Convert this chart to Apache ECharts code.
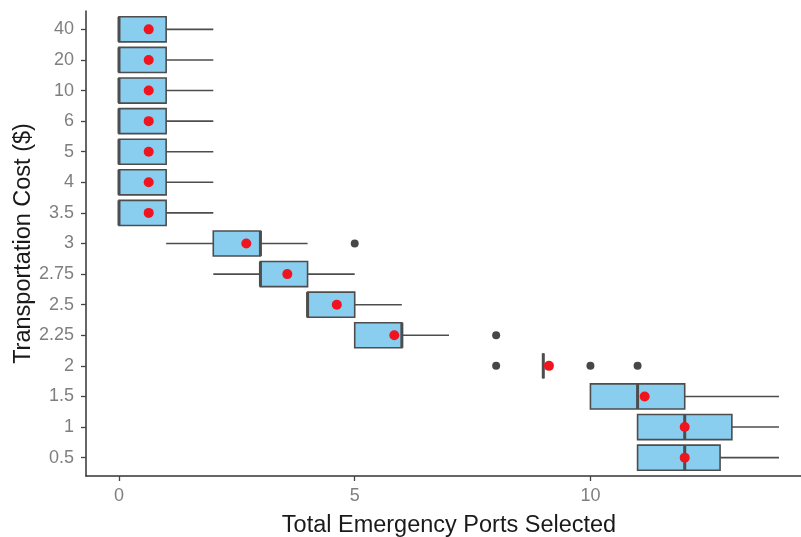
<!DOCTYPE html>
<html>
<head>
<meta charset="utf-8">
<script src="https://cdn.jsdelivr.net/npm/echarts@6/dist/echarts.min.js"></script>
<style>html,body{margin:0;padding:0;background:#fff;}#c{width:801px;height:537px;}</style>
</head>
<body>
<div id="c"></div>
<script>
// Categories (bottom to top)
const categories = ['0.5','1','1.5','2','2.25','2.5','2.75','3','3.5','4','5','6','10','20','40'];
// Box statistics per category: lower whisker, Q1, median, Q3, upper whisker
const whiskerLow = [11, 11, 10, 9, 5, 4, 2, 1, 0, 0, 0, 0, 0, 0, 0];
const q1Values   = [11, 11, 10, 9, 5, 4, 3, 2, 0, 0, 0, 0, 0, 0, 0];
const medians    = [12, 12, 11, 9, 6, 4, 3, 3, 0, 0, 0, 0, 0, 0, 0];
const q3Values   = [12.75, 13, 12, 9, 6, 5, 4, 3, 1, 1, 1, 1, 1, 1, 1];
const whiskerHigh= [14, 14, 14, 9, 7, 6, 5, 4, 2, 2, 2, 2, 2, 2, 2];
// Means (red points)
const means = [12.0, 12.0, 11.15, 9.12, 5.84, 4.62, 3.57, 2.7, 0.63, 0.63, 0.63, 0.63, 0.63, 0.63, 0.63];
// Outliers: [category label, value]
const outliers = [['2', 8], ['2', 10], ['2', 11], ['2.25', 8], ['3', 5]];
const xTicks = [0, 5, 10];

const boxData = categories.map((c, i) => [i, q1Values[i], medians[i], q3Values[i], whiskerLow[i], whiskerHigh[i]]);
const meanData = categories.map((c, i) => [means[i], i]);
const outlierData = outliers.map(o => [o[1], categories.indexOf(o[0])]);

const lineColor = '#4d4d4d';
const chart = echarts.init(document.getElementById('c'), null, {renderer: 'canvas'});
chart.setOption({
  animation: false,
  backgroundColor: '#ffffff',
  grid: {left: 86, right: -11, top: 11, bottom: 61, containLabel: false, outerBoundsMode: 'none'},
  xAxis: {
    type: 'value', min: -0.7, max: 14.7,
    name: 'Total Emergency Ports Selected', nameLocation: 'middle', nameGap: 38, nameMoveOverlap: false,
    nameTextStyle: {fontFamily: 'Liberation Sans', fontSize: 23.5, color: '#1a1a1a'},
    axisLine: {show: true, onZero: false, lineStyle: {color: '#333', width: 1.5}},
    axisTick: {show: true, length: 5, lineStyle: {color: '#444', width: 1.3}, customValues: xTicks},
    axisLabel: {customValues: xTicks, fontFamily: 'Liberation Sans', fontSize: 18, color: '#7f7f7f', margin: 11},
    splitLine: {show: false}
  },
  yAxis: {
    type: 'value', min: -0.6, max: 14.6,
    name: 'Transportation Cost ($)', nameLocation: 'middle', nameGap: 50, nameMoveOverlap: false,
    nameTextStyle: {fontFamily: 'Liberation Sans', fontSize: 23.5, color: '#1a1a1a'},
    axisLine: {show: true, onZero: false, lineStyle: {color: '#333', width: 1.5}},
    axisTick: {show: true, length: 5, lineStyle: {color: '#444', width: 1.3}, customValues: categories.map((c, i) => i)},
    axisLabel: {customValues: categories.map((c, i) => i), formatter: v => categories[Math.round(v)],
      fontFamily: 'Liberation Sans', fontSize: 18, color: '#7f7f7f', margin: 12},
    splitLine: {show: false}
  },
  series: [
    {
      type: 'custom',
      encode: {x: [1, 2, 3, 4, 5], y: 0},
      data: boxData,
      renderItem: function (params, api) {
        const y = api.value(0);
        const q1 = api.value(1), med = api.value(2), q3 = api.value(3), lo = api.value(4), hi = api.value(5);
        const h = api.size([0, 1])[1] * 0.82;
        const pLo = api.coord([lo, y]), pQ1 = api.coord([q1, y]), pMed = api.coord([med, y]);
        const pQ3 = api.coord([q3, y]), pHi = api.coord([hi, y]);
        const cy = pQ1[1];
        const children = [];
        if (pLo[0] < pQ1[0]) children.push({type: 'line', shape: {x1: pLo[0], y1: cy, x2: pQ1[0], y2: cy}, style: {stroke: lineColor, lineWidth: 1.6}});
        if (pHi[0] > pQ3[0]) children.push({type: 'line', shape: {x1: pQ3[0], y1: cy, x2: pHi[0], y2: cy}, style: {stroke: lineColor, lineWidth: 1.6}});
        children.push({type: 'rect', shape: {x: pQ1[0], y: cy - h / 2, width: pQ3[0] - pQ1[0], height: h},
          style: {fill: '#89cdef', stroke: lineColor, lineWidth: 1.6}});
        children.push({type: 'line', shape: {x1: pMed[0], y1: cy - h / 2, x2: pMed[0], y2: cy + h / 2}, style: {stroke: lineColor, lineWidth: 3}});
        return {type: 'group', children: children};
      },
      z: 2
    },
    {
      type: 'scatter', data: outlierData, symbol: 'circle', symbolSize: 8,
      itemStyle: {color: '#474747', opacity: 1}, z: 3
    },
    {
      type: 'scatter', data: meanData, symbol: 'circle', symbolSize: 10,
      itemStyle: {color: '#f0141e', opacity: 1}, z: 4
    }
  ]
});
</script>
</body>
</html>
